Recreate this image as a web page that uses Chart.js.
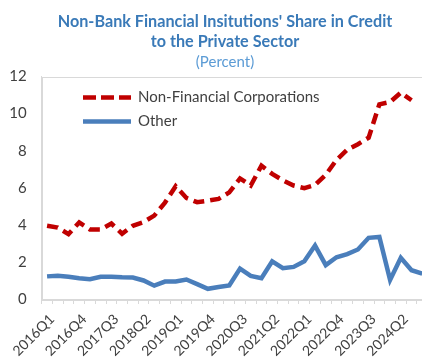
<!DOCTYPE html>
<html>
<head>
<meta charset="utf-8">
<script src="https://cdn.jsdelivr.net/npm/chart.js@4.4.1/dist/chart.umd.min.js"></script>
<style>
    html, body { margin: 0; padding: 0; background: #fff; }
    #wrap { width: 422px; height: 358px; overflow: hidden; position: relative; }
    #box { width: 450px; height: 358px; }
</style>
</head>
<body>
<div id="wrap"><div id="box"><canvas id="nbfiChart"></canvas></div></div>
<script>
// Trimestres 2016Q1 - 2024Q4
var quarters = [
    '2016Q1', '2016Q2', '2016Q3', '2016Q4',
    '2017Q1', '2017Q2', '2017Q3', '2017Q4',
    '2018Q1', '2018Q2', '2018Q3', '2018Q4',
    '2019Q1', '2019Q2', '2019Q3', '2019Q4',
    '2020Q1', '2020Q2', '2020Q3', '2020Q4',
    '2021Q1', '2021Q2', '2021Q3', '2021Q4',
    '2022Q1', '2022Q2', '2022Q3', '2022Q4',
    '2023Q1', '2023Q2', '2023Q3', '2023Q4',
    '2024Q1', '2024Q2', '2024Q3', '2024Q4'
];

var nonFinancialCorp = [
    3.95, 3.85, 3.50, 4.13, 3.75, 3.75, 4.07, 3.52,
    3.95, 4.15, 4.50, 5.20, 6.08, 5.45, 5.22, 5.30,
    5.40, 5.75, 6.50, 6.12, 7.19, 6.75, 6.40, 6.12,
    5.98, 6.15, 6.70, 7.50, 8.05, 8.35, 8.70, 10.50,
    10.62, 11.13, 10.72
];

var other = [
    1.22, 1.26, 1.20, 1.12, 1.07, 1.20, 1.20, 1.17,
    1.16, 1.00, 0.72, 0.94, 0.94, 1.05, 0.80, 0.55,
    0.65, 0.73, 1.64, 1.25, 1.12, 2.03, 1.66, 1.73,
    2.03, 2.88, 1.83, 2.25, 2.42, 2.67, 3.30, 3.35,
    1.03, 2.22, 1.55, 1.37
];

var seriesNames = ['Non-Financial Corporations', 'Other'];
var titleLines = ["Non-Bank Financial Insitutions' Share in Credit", 'to the Private Sector'];
var subtitleText = '(Percent)';

var FONT = 'Lato, "Open Sans", sans-serif';
var AXIS_GREY = '#d9d9d9';

// título centrado no canvas inteiro (não só na área do gráfico)
var centeredTitle = {
    id: 'centeredTitle',
    afterDraw: function(chart) {
        var ctx = chart.ctx;
        var cx = chart.width / 2;
        ctx.save();
        ctx.textAlign = 'center';
        ctx.textBaseline = 'middle';
        ctx.fillStyle = '#3a7ab8';
        ctx.font = 'bold 16.2px ' + FONT;
        ctx.fillText(titleLines[0], cx, 22);
        ctx.fillText(titleLines[1], cx, 42);
        ctx.fillStyle = '#5b9bd5';
        ctx.font = '15px ' + FONT;
        ctx.fillText(subtitleText, cx, 62);
        ctx.restore();
    }
};

// moldura da área do gráfico
var frame = {
    id: 'frame',
    beforeDatasetsDraw: function(chart) {
        var a = chart.chartArea;
        var ctx = chart.ctx;
        ctx.save();
        ctx.strokeStyle = AXIS_GREY;
        ctx.lineWidth = 1;
        ctx.strokeRect(Math.round(a.left) + 0.5, Math.round(a.top) + 0.5,
            Math.round(a.right - a.left), Math.round(a.bottom - a.top));
        ctx.restore();
    }
};

// legenda dentro da área do gráfico
var innerLegend = {
    id: 'innerLegend',
    afterDatasetsDraw: function(chart) {
        var ctx = chart.ctx;
        var x0 = 83, x1 = 131, y = 97.5;
        ctx.save();
        for (var i = 0; i < chart.data.datasets.length; i++) {
            var ds = chart.data.datasets[i];
            ctx.beginPath();
            ctx.strokeStyle = ds.borderColor;
            ctx.lineWidth = ds.borderWidth;
            ctx.setLineDash(ds.legendDash || []);
            ctx.lineCap = 'butt';
            ctx.moveTo(x0, y);
            ctx.lineTo(x1, y);
            ctx.stroke();
            ctx.setLineDash([]);
            ctx.fillStyle = '#404040';
            ctx.font = '15px ' + FONT;
            ctx.textBaseline = 'middle';
            ctx.fillText(ds.label, x1 + 7, y);
            y += 24;
        }
        ctx.restore();
    }
};

var ctx = document.getElementById('nbfiChart');
var chart = new Chart(ctx, {
    type: 'line',
    data: {
        labels: quarters,
        datasets: [{
            label: seriesNames[0],
            data: nonFinancialCorp,
            borderColor: '#c00000',
            borderWidth: 4.5,
            borderDash: [11, 6],
            legendDash: [13, 5],
            pointRadius: 0,
            tension: 0,
            fill: false
        }, {
            label: seriesNames[1],
            data: other,
            borderColor: '#4a7ebb',
            borderWidth: 4.5,
            pointRadius: 0,
            tension: 0,
            fill: false
        }]
    },
    options: {
        responsive: true,
        maintainAspectRatio: false,
        animation: false,
        layout: { padding: { left: 0, right: 22.4, top: 76.5, bottom: 0 } },
        scales: {
            x: {
                offset: true,
                grid: {
                    offset: true,
                    drawOnChartArea: false,
                    tickLength: 5,
                    color: AXIS_GREY
                },
                border: { color: AXIS_GREY },
                ticks: {
                    autoSkip: false,
                    maxRotation: 45,
                    minRotation: 45,
                    padding: 7,
                    labelOffset: 5,
                    color: '#404040',
                    font: { family: FONT, size: 14 },
                    callback: function(value, index) {
                        return index % 3 === 0 ? this.getLabelForValue(value) : '';
                    }
                },
                afterFit: function(scale) { scale.height = 59; }
            },
            y: {
                min: 0,
                max: 12,
                grid: { display: false, drawTicks: false },
                border: { color: AXIS_GREY },
                ticks: {
                    stepSize: 2,
                    padding: 15,
                    color: '#404040',
                    font: { family: FONT, size: 15 }
                },
                afterFit: function(scale) { scale.width = 41.7; }
            }
        },
        plugins: {
            legend: { display: false },
            tooltip: { enabled: false },
            title: { display: false }
        }
    },
    plugins: [frame, innerLegend, centeredTitle]
});
</script>
</body>
</html>
